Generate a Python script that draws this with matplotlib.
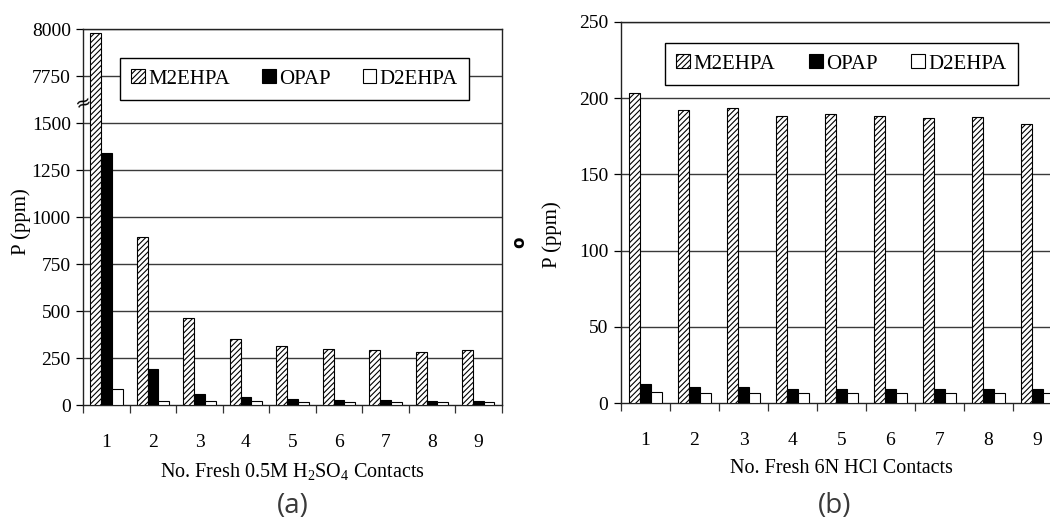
import matplotlib
matplotlib.use("Agg")
import matplotlib.pyplot as plt
from matplotlib.patches import Patch
from matplotlib.ticker import FixedLocator, NullFormatter
import numpy as np

# ---- data ----
contacts = [1, 2, 3, 4, 5, 6, 7, 8, 9]
series_names = ["M2EHPA", "OPAP", "D2EHPA"]

# (a) stripping with fresh 0.5M H2SO4
h2so4_m2ehpa = [7980, 895, 466, 353, 314, 301, 292, 285, 292]
h2so4_opap = [1340, 195, 62, 43, 32, 27, 26, 23, 23]
h2so4_d2ehpa = [85, 22, 22, 21, 20, 20, 20, 20, 20]
h2so4_ticks = [0, 250, 500, 750, 1000, 1250, 1500, 7750, 8000]

# (b) stripping with fresh 6N HCl
hcl_m2ehpa = [203, 192.3, 193.2, 188, 189.7, 188, 186.6, 187.3, 183.3]
hcl_opap = [12.5, 10.7, 10.7, 9.6, 9.6, 9.6, 9.6, 9.6, 9.6]
hcl_d2ehpa = [7.5, 6.8, 6.8, 6.8, 6.8, 6.8, 6.8, 6.8, 6.8]
hcl_ticks = [0, 50, 100, 150, 200, 250]

# ---- style ----
SERIF = ["Liberation Serif", "DejaVu Serif"]
plt.rcParams["font.family"] = SERIF
plt.rcParams["hatch.linewidth"] = 0.8
plt.rcParams["mathtext.fontset"] = "custom"
plt.rcParams["mathtext.rm"] = "Liberation Serif"
plt.rcParams["mathtext.it"] = "Liberation Serif:italic"

GRID = "#3a3a3a"
bar_w = 0.23
styles = [
    dict(facecolor="white", edgecolor="black", hatch="//////"),
    dict(facecolor="black", edgecolor="black"),
    dict(facecolor="white", edgecolor="black"),
]

# Broken y scale for panel (a): 1500 -> 7750 gap collapsed into one step
BREAK_LO, BREAK_HI, STEP = 1500, 7750, 250


def broken(v):
    v = np.asarray(v, dtype=float)
    return np.where(v <= BREAK_LO, v, v - BREAK_HI + BREAK_LO + STEP)


fig = plt.figure(figsize=(10.5, 5.27), dpi=100)
ax_a = fig.add_axes([0.0793, 0.2309, 0.3985, 0.7135])
ax_b = fig.add_axes([0.5914, 0.2347, 0.4200, 0.7241])


def draw_panel(ax, values, ticks_pos, tick_labels, ymax, xlabel, legend_box):
    x = np.array(contacts, dtype=float)
    for i, (vals, st) in enumerate(zip(values, styles)):
        ax.bar(x + (i - 1) * bar_w, vals, width=bar_w, linewidth=0.8,
               zorder=3, **st)
    ax.set_xlim(0.5, len(contacts) + 0.5)
    ax.set_ylim(0, ymax)

    ax.set_yticks(ticks_pos)
    ax.set_yticklabels([str(t) for t in tick_labels])
    ax.tick_params(axis="y", direction="out", length=5, width=0.9,
                   pad=4, labelsize=14, colors="black")

    # category boundaries carry tick marks, centres carry the labels
    ax.xaxis.set_major_locator(FixedLocator(np.arange(0.5, len(contacts) + 1, 1.0)))
    ax.xaxis.set_major_formatter(NullFormatter())
    ax.xaxis.set_minor_locator(FixedLocator(x))
    ax.set_xticklabels([str(c) for c in contacts], minor=True)
    ax.tick_params(axis="x", which="major", direction="out", length=6,
                   width=0.9, colors="#333333")
    ax.tick_params(axis="x", which="minor", length=0, pad=21, labelsize=14)

    for yv in ticks_pos[1:]:
        ax.axhline(yv, color=GRID, lw=1.0, zorder=1)
    for sp in ax.spines.values():
        sp.set_color("#222222")
        sp.set_linewidth(1.0)

    ax.set_ylabel("P (ppm)", fontsize=15)
    ax.set_xlabel(xlabel, fontsize=14.5, labelpad=7)

    handles = [Patch(label=n, linewidth=0.8, **st)
               for n, st in zip(series_names, styles)]
    leg = ax.legend(handles=handles, ncol=3, mode="expand",
                    bbox_to_anchor=legend_box, loc="lower left",
                    frameon=True, fancybox=False, framealpha=1,
                    edgecolor="black", fontsize=15, handlelength=0.65,
                    handleheight=0.65, handletextpad=0.15, borderpad=0.55,
                    columnspacing=0.4, borderaxespad=0)
    leg.get_frame().set_linewidth(1.0)
    leg.set_zorder(5)


draw_panel(ax_a,
           [broken(h2so4_m2ehpa), broken(h2so4_opap), broken(h2so4_d2ehpa)],
           list(broken(h2so4_ticks)), h2so4_ticks, float(broken(8000)),
           r"No. Fresh 0.5M H$_2$SO$_4$ Contacts",
           (0.0877, 0.812, 0.834, 0.155))
ax_a.yaxis.set_label_coords(-0.124, 0.4875)

# break marker on the y axis of panel (a)
ax_a.text(0, 1608, "≈", transform=ax_a.get_yaxis_transform(),
          ha="center", va="center", fontsize=14, rotation=20, zorder=6,
          family=["DejaVu Sans"])

draw_panel(ax_b, [hcl_m2ehpa, hcl_opap, hcl_d2ehpa],
           hcl_ticks, hcl_ticks, 250,
           "No. Fresh 6N HCl Contacts",
           (0.0998, 0.834, 0.80, 0.131))
ax_b.yaxis.set_label_coords(-0.133, 0.441)

# panel captions
SANS = ["Open Sans", "DejaVu Sans"]
fig.text(293 / 1050, 1 - 506 / 527, "(a)", ha="center", va="center",
         fontsize=20, family=SANS, color="#3a3a3a")
fig.text(835 / 1050, 1 - 506 / 527, "(b)", ha="center", va="center",
         fontsize=20, family=SANS, color="#3a3a3a")
fig.text(519 / 1050, 1 - 242 / 527, "o", ha="center", va="center",
         fontsize=12, fontweight="bold", rotation=90, family=["DejaVu Sans"])

fig.savefig("out.png", dpi=100)
